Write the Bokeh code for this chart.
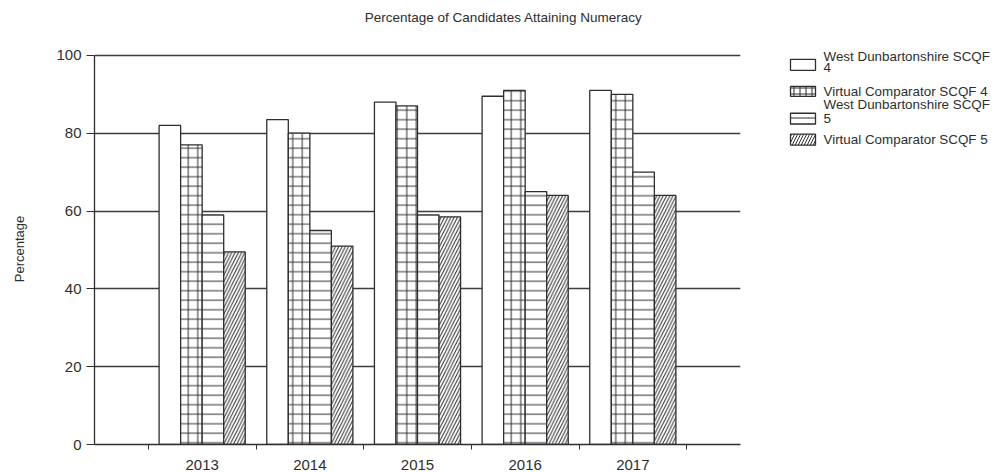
import math
from bokeh.plotting import figure
from bokeh.models import Range1d, FixedTicker, Label
from bokeh.layouts import row
from bokeh.embed import file_html
from bokeh.resources import INLINE
from bokeh.core.properties import value

# ---------------- data ----------------
years = [2013, 2014, 2015, 2016, 2017]
ws4 = [82.0, 83.5, 88.0, 89.5, 91.0]   # West Dunbartonshire SCQF 4
vc4 = [77.0, 80.0, 87.0, 91.0, 90.0]   # Virtual Comparator SCQF 4
ws5 = [59.0, 55.0, 59.0, 65.0, 70.0]   # West Dunbartonshire SCQF 5
vc5 = [49.5, 51.0, 58.5, 64.0, 64.0]   # Virtual Comparator SCQF 5
series_names = ["West Dunbartonshire SCQF 4", "Virtual Comparator SCQF 4",
                "West Dunbartonshire SCQF 5", "Virtual Comparator SCQF 5"]
y_ticks = [0, 20, 40, 60, 80, 100]
title_text = "Percentage of Candidates Attaining Numeracy"
y_label = "Percentage"

# ---------------- style ----------------
FONT = "Liberation Sans"
INK = "#2e2e2e"
GRID = "#3c3c3c"
hatches = [" ", "+", "-", "/"]
hatch_scales = [8, 9.5, 9.5, 6.5]
offsets = [-0.3, -0.1, 0.1, 0.3]
bar_w = 0.2
Y_TOP = 114.1          # headroom above 100 that holds the title
H, BOTTOM = 472, 27

# ---------------- y-axis title strip (coordinates = page pixels) ----------------
lab = figure(width=40, height=H, x_range=Range1d(0, 40), y_range=Range1d(H - BOTTOM, 0),
             output_backend="svg", toolbar_location=None,
             min_border_left=0, min_border_right=0, min_border_top=0, min_border_bottom=BOTTOM,
             x_axis_location=None, y_axis_location=None)
lab.outline_line_color = None
lab.grid.visible = False
lab.text(x=[19], y=[249], text=[y_label], angle=math.pi / 2, text_font=value(FONT),
         text_font_size="13px", text_color=INK, text_align="center", text_baseline="middle")

# ---------------- main chart ----------------
p = figure(width=720, height=H,
           x_range=Range1d(years[0] - 1, years[-1] + 1), y_range=Range1d(0, Y_TOP),
           output_backend="svg", toolbar_location=None,
           min_border_left=54, min_border_right=20, min_border_top=0, min_border_bottom=BOTTOM)
p.outline_line_color = None
p.background_fill_color = "white"
p.border_fill_color = "white"
p.xgrid.grid_line_color = None
p.ygrid.ticker = FixedTicker(ticks=y_ticks)
p.ygrid.grid_line_color = GRID
p.ygrid.grid_line_width = 1.3

series = [ws4, vc4, ws5, vc5]
for vals, h, sc, off in zip(series, hatches, hatch_scales, offsets):
    p.vbar(x=[yr + off for yr in years], top=vals, bottom=0, width=bar_w,
           fill_color="white", line_color=INK, line_width=1.3,
           hatch_pattern=h, hatch_color=INK, hatch_scale=sc, hatch_weight=1)

yax = p.yaxis[0]
yax.bounds = (y_ticks[0], y_ticks[-1])
yax.ticker = FixedTicker(ticks=y_ticks)
yax.minor_tick_line_color = None
yax.major_tick_out = 8
yax.major_tick_in = 0
yax.major_tick_line_color = INK
yax.axis_line_color = INK
yax.axis_line_width = 1.3
yax.major_label_text_font = FONT
yax.major_label_text_font_size = "15px"
yax.major_label_text_color = INK
yax.major_label_standoff = 5

xax = p.xaxis[0]
xax.ticker = FixedTicker(ticks=years,
                         minor_ticks=[yr - 0.5 for yr in years] + [years[-1] + 0.5])
xax.major_tick_line_color = None
xax.major_tick_out = 0
xax.major_tick_in = 0
xax.minor_tick_out = 5
xax.minor_tick_in = 0
xax.minor_tick_line_color = INK
xax.axis_line_color = INK
xax.axis_line_width = 1.3
xax.major_label_text_font = FONT
xax.major_label_text_font_size = "15px"
xax.major_label_text_color = INK
xax.major_label_standoff = 10

# chart title, in the headroom above the plotted area
p.add_layout(Label(x=2015.8, y=109.7, x_units="data", y_units="data", text=title_text,
                   text_align="center", text_baseline="middle", text_font=FONT,
                   text_font_size="13.5px", text_color=INK))

# ---------------- legend panel (coordinates = page pixels) ----------------
leg = figure(width=235, height=H, x_range=Range1d(760, 995), y_range=Range1d(H - BOTTOM, 0),
             output_backend="svg", toolbar_location=None,
             min_border_left=0, min_border_right=0, min_border_top=0, min_border_bottom=BOTTOM,
             x_axis_location=None, y_axis_location=None)
leg.outline_line_color = None
leg.grid.visible = False
leg.background_fill_color = "white"
leg.border_fill_color = "white"

sw_top = [59, 86, 113, 134]
sw_bot = [70, 96, 124, 145]
line_y = [[56, 67], [91], [104, 118], [139]]
for name, h, sc, t, b, ly in zip(series_names, hatches, hatch_scales, sw_top, sw_bot, line_y):
    leg.quad(left=[790], right=[815], top=[t], bottom=[b], fill_color="white",
             line_color=INK, line_width=1.3, hatch_pattern=h, hatch_color=INK,
             hatch_scale=min(sc, 6), hatch_weight=1)
    lines = name.rsplit(" ", 1) if len(ly) == 2 else [name]
    leg.text(x=[823] * len(lines), y=ly, text=lines, text_font=value(FONT),
             text_font_size="13.4px", text_color=INK, text_baseline="middle",
             text_align="left")

layout = row(lab, p, leg)
open("out.html", "w").write(file_html(layout, INLINE))
